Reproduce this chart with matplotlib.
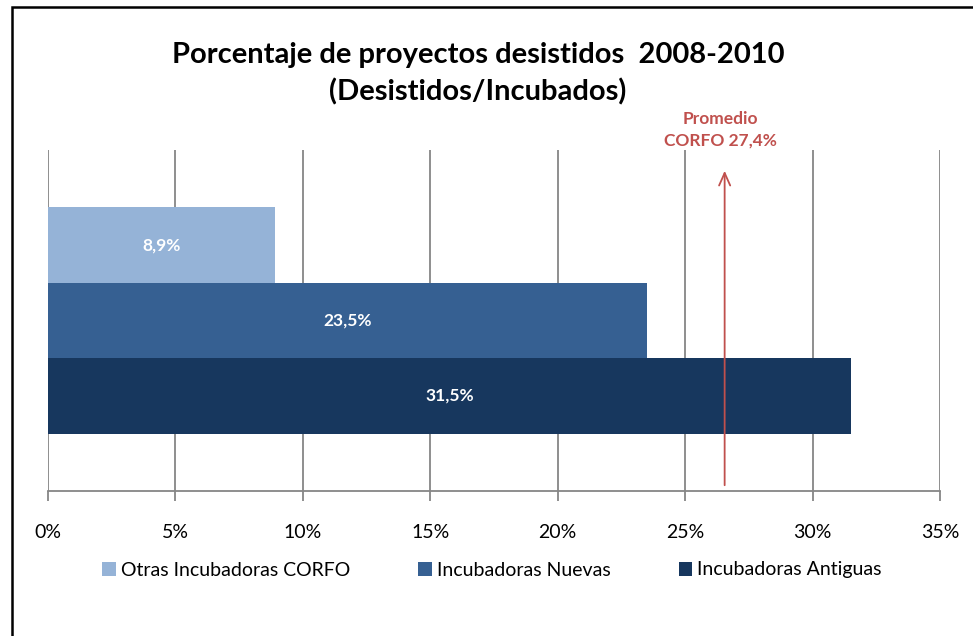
import matplotlib
matplotlib.use("Agg")
import matplotlib.pyplot as plt
from matplotlib.patches import Rectangle

plt.rcParams['font.family'] = ['Lato', 'DejaVu Sans']

series = ["Otras Incubadoras CORFO", "Incubadoras Nuevas", "Incubadoras Antiguas"]
values = [8.9, 23.5, 31.5]
labels = ["8,9%", "23,5%", "31,5%"]
colors = ["#95B3D7", "#366092", "#17375E"]
xticks = [0, 5, 10, 15, 20, 25, 30, 35]
xtick_labels = ["0%", "5%", "10%", "15%", "20%", "25%", "30%", "35%"]
promedio_label = "Promedio\nCORFO 27,4%"
promedio_x = 26.55  # drawn position of the arrow in the reference

title = "Porcentaje de proyectos desistidos  2008-2010\n(Desistidos/Incubados)"

fig = plt.figure(figsize=(9.73, 6.36), dpi=100)
ax = fig.add_axes([48/973, (636-491)/636, (940-48)/973, (491-150)/636])

bar_h = 0.221
offsets = [bar_h, 0, -bar_h]
for s, v, lab, c, off in zip(series, values, labels, colors, offsets):
    ax.barh(off, v, height=bar_h, color=c, label=s, zorder=3)
    ax.text(v/2, off, lab, color="white", fontweight="bold", fontsize=12.5,
            ha="center", va="center", zorder=4)

ax.set_xlim(0, 35)
ax.set_ylim(-0.5, 0.5)
ax.set_xticks(xticks)
ax.set_xticklabels(xtick_labels, fontsize=14)
ax.set_yticks([])
ax.grid(axis="x", color="#868686", linewidth=1.3, zorder=0)
for sp in ["top", "right", "left"]:
    ax.spines[sp].set_visible(False)
ax.spines["bottom"].set_color("#868686")
ax.spines["bottom"].set_linewidth(1.3)
ax.tick_params(axis="x", length=7, width=1.3, color="#868686", pad=17)

# Promedio arrow
ax.annotate("", xy=(promedio_x, 0.5 - (168-150)/341), xytext=(promedio_x, -0.5 + 3/341),
            arrowprops=dict(arrowstyle="->,head_length=0.9,head_width=0.4",
                            color="#C0504D", lw=1.3), zorder=5,
            annotation_clip=False)
fig.text(720/973, 1 - 130/636, promedio_label, color="#C0504D", fontweight="bold",
         fontsize=12.5, ha="center", va="center", linespacing=1.45)

fig.text(478/973, 1 - 74/636, title, fontweight="bold", fontsize=21,
         ha="center", va="center", linespacing=1.45)

fig.legend(loc="center", bbox_to_anchor=(492/973, 1 - 570/636), ncol=3,
           frameon=False, fontsize=14, handlelength=0.7, handleheight=0.7,
           handletextpad=0.25, columnspacing=3.5)

# outer frame
fig.patches.append(Rectangle((12/973, -0.1), 1.2, 1 - 7/636 + 0.1, transform=fig.transFigure,
                             fill=False, edgecolor="black", linewidth=1.8))

fig.savefig("out.png", dpi=100)
